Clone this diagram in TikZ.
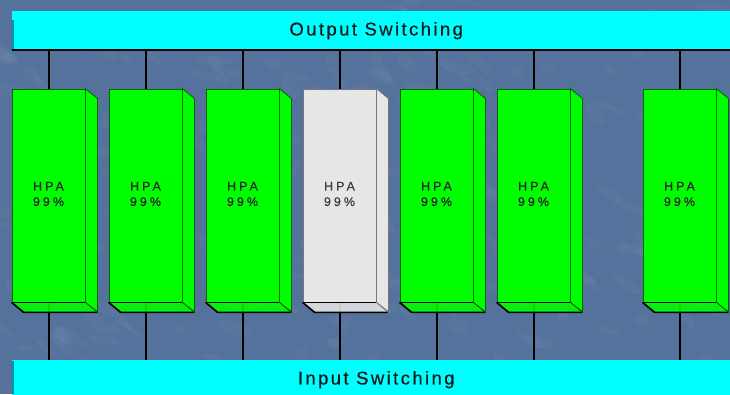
\documentclass[tikz,border=0pt]{standalone}
\usepackage{fontspec}
\setmainfont{Liberation Sans}
\newfontfamily\hpafont[LetterSpace=24,FakeBold=0.8]{Liberation Sans}
\newfontfamily\barfont[LetterSpace=13,FakeBold=0.5]{Liberation Sans}
\definecolor{bgblue}{RGB}{84,114,155}
\definecolor{hpagreen}{RGB}{0,255,0}
\definecolor{edgegreen}{RGB}{0,105,0}
\definecolor{barcyan}{RGB}{0,255,255}
\definecolor{barshade}{RGB}{0,150,165}
\definecolor{offgray}{RGB}{230,230,230}
\definecolor{edgegray}{RGB}{120,120,120}
\pgfdeclarelayer{bg}
\pgfsetlayers{bg,main}
\tikzset{
  bar/.style={fill=barcyan, draw=none, minimum width=728pt, minimum height=39pt,
    anchor=north west, inner sep=0pt, font=\barfont\fontsize{18.5}{20}\selectfont, text=black!90},
  front/.style={minimum width=73pt, minimum height=213pt, inner sep=0pt, line width=0.8pt},
  hpatext/.style={align=center, inner sep=0pt, font=\hpafont\fontsize{12.5}{15.5}\selectfont},
  conn/.style={draw=black, line width=2pt},
}
\begin{document}
\begin{tikzpicture}[x=1pt,y=-1pt]
\useasboundingbox (0,0) rectangle (730,394);
\clip (0,0) rectangle (730,394);
\begin{pgfonlayer}{bg}
\fill[bgblue] (0,0) rectangle (730,394);
\pgfmathsetseed{7}
\foreach \k in {1,...,260}{
  \pgfmathsetmacro{\px}{rnd*730}
  \pgfmathsetmacro{\py}{rnd*394}
  \pgfmathsetmacro{\rx}{4+rnd*14}
  \pgfmathsetmacro{\ry}{2+rnd*5}
  \pgfmathsetmacro{\ang}{-60+rnd*60}
  \fill[white, opacity=0.035, rotate around={\ang:(\px,\py)}] (\px,\py) ellipse ({\rx} and {\ry});
}
\end{pgfonlayer}
% bars
\node[bar] (out) at (12,11) {Output Switching};
\fill[barshade] (12,20) rectangle (13.5,50);
\draw[black, line width=2pt] (out.south west) -- (out.south east);
\node[bar] (in) at (12,360) {Input Switching};
\fill[barshade] (12,361) rectangle (13.5,394);
% boxes
\foreach \i/\x/\f/\e/\t in {1/12/hpagreen/edgegreen/black!85,
                            2/109/hpagreen/edgegreen/black!85,
                            3/206/hpagreen/edgegreen/black!85,
                            4/303/offgray/edgegray/black!75,
                            5/400/hpagreen/edgegreen/black!85,
                            6/497/hpagreen/edgegreen/black!85,
                            7/643/hpagreen/edgegreen/black!85}{
  \node[front, fill=\f, draw=\e,
        label={[hpatext, text=\t, yshift=1.5pt]center:HPA\\99\%}] (h\i) at (\x+36.5,195.5) {};
  \filldraw[fill=\f, draw=\e, line width=0.8pt] (h\i.north east) -- ++(12,10) -- ++(0,213) -- (h\i.south east) -- cycle;
  \filldraw[fill=\f, fill opacity=0.88, draw=\e, line width=0.8pt] (h\i.south west) -- (h\i.south east) -- ++(12,10) -- ++(-73,0) -- cycle;
  \draw[black, line width=1.6pt, line join=round] (h\i.south west) -- ++(12,10) -- ++(73,0);
  \draw[black, line width=0.8pt] (h\i.south west) -- (h\i.south east);
  \begin{pgfonlayer}{bg}
    \draw[conn] (h\i.north) -- (h\i.north |- out.south);
    \draw[conn] (h\i.south) -- (h\i.south |- in.north);
  \end{pgfonlayer}
}
\end{tikzpicture}
\end{document}
